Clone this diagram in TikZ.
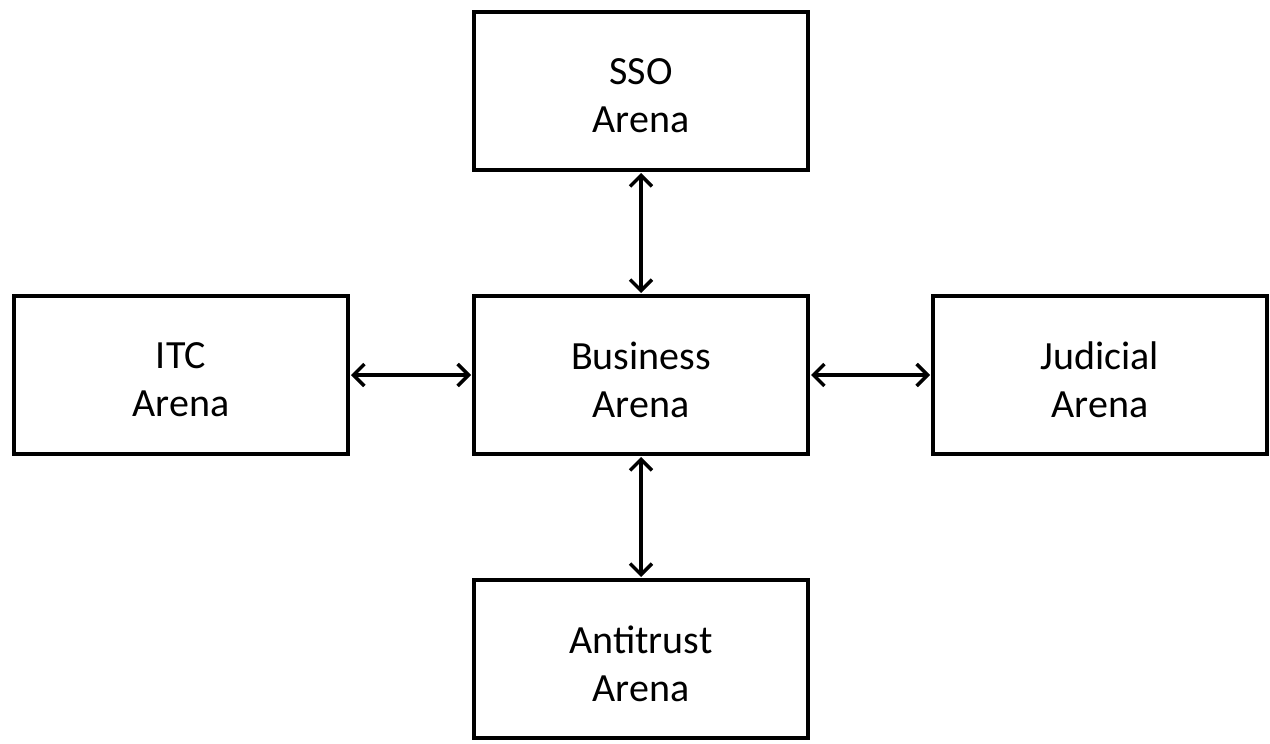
\documentclass[tikz,border=0pt]{standalone}
\usepackage{fontspec}
\setmainfont{Carlito}
\usetikzlibrary{arrows.meta}
\begin{document}
\begin{tikzpicture}[x=1pt,y=-1pt,
  arena/.style={draw=black,line width=4pt,minimum width=334pt,minimum height=158pt,inner sep=0pt},
  txt/.style={align=center,inner sep=0pt,font=\fontsize{40}{48}\selectfont},
  link/.style={line width=3.5pt,{Straight Barb[length=11pt,width=22pt,line width=3.5pt]}-{Straight Barb[length=11pt,width=22pt,line width=3.5pt]}, shorten <=1pt, shorten >=1pt}]
\useasboundingbox (0,0) rectangle (1270,744);
\fill[white] (0,0) rectangle (1270,744);
\node[arena] (sso) at (641,91) {};
\node[arena] (itc) at (181,375) {};
\node[arena] (bus) at (641,375) {};
\node[arena] (jud) at (1100,375) {};
\node[arena] (anti) at (641,659) {};
\node[txt] (ssot) at ([yshift=-5pt]sso.center) {SSO\\Arena};
\node[txt] (itct) at ([yshift=-5pt]itc.center) {ITC\\Arena};
\node[txt] (bust) at ([yshift=-5pt]bus.center) {Business\\Arena};
\node[txt] (judt) at ([yshift=-5pt]jud.center) {Judicial\\Arena};
\node[txt] (antit) at ([yshift=-5pt]anti.center) {Antitrust\\Arena};
\draw[link] (sso) -- (bus);
\draw[link] (bus) -- (anti);
\draw[link] (itc) -- (bus);
\draw[link] (bus) -- (jud);
\end{tikzpicture}
\end{document}
